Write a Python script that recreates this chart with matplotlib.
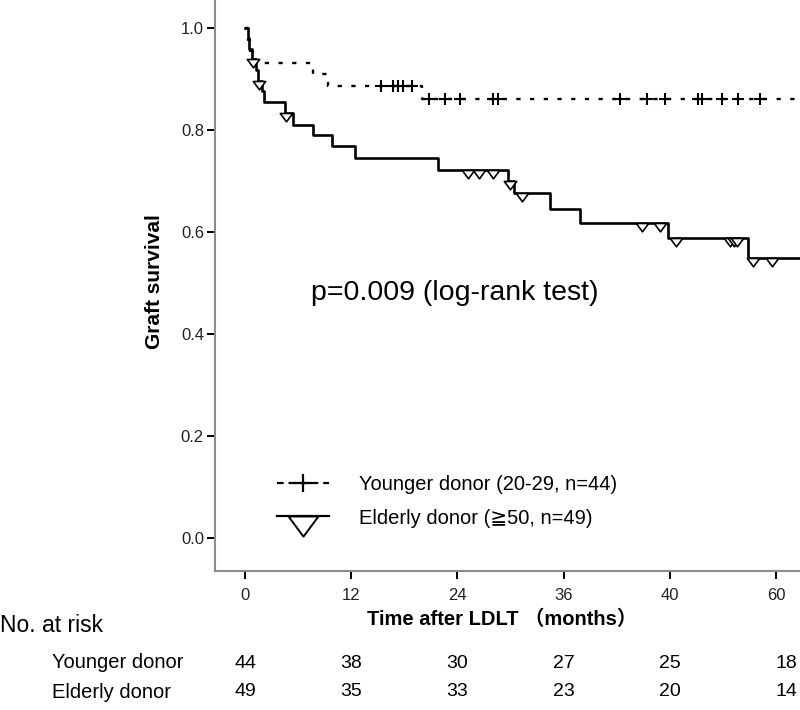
import matplotlib.pyplot as plt
import matplotlib.transforms as mtransforms
from matplotlib.lines import Line2D
from matplotlib.path import Path

# Kaplan-Meier steps (months, survival)
young_t = [0, 0.3, 0.6, 1.0, 7.7, 9.4, 20.0, 62.3]
young_s = [1.0, 0.977, 0.955, 0.932, 0.909, 0.886, 0.860, 0.860]
young_cens_t = [15.4, 16.7, 17.3, 17.9, 18.9, 20.8, 22.6, 24.3, 28.0, 28.6,
                42.4, 45.4, 47.5, 51.2, 51.6, 53.9, 55.7, 58.2]
young_cens_s = [0.886, 0.886, 0.886, 0.886, 0.886, 0.860, 0.860, 0.860, 0.860, 0.860,
                0.860, 0.860, 0.860, 0.860, 0.860, 0.860, 0.860, 0.860]

elder_t = [0, 0.3, 0.5, 0.8, 1.2, 1.5, 1.9, 2.2, 4.5, 5.4, 7.7, 9.8, 12.4, 21.8,
           29.7, 30.4, 34.5, 37.8, 47.8, 56.8, 62.6]
elder_s = [1.0, 0.980, 0.959, 0.939, 0.918, 0.897, 0.876, 0.855, 0.833, 0.810, 0.790,
           0.768, 0.745, 0.722, 0.700, 0.676, 0.645, 0.617, 0.588, 0.549, 0.549]
elder_cens_t = [0.9, 1.6, 4.6, 25.2, 26.4, 28.0, 29.9, 31.3, 44.9, 46.9, 48.7,
                54.8, 55.2, 55.6, 57.4, 59.5]
elder_cens_s = [0.939, 0.897, 0.833, 0.722, 0.722, 0.722, 0.700, 0.676, 0.617, 0.617,
                0.588, 0.588, 0.588, 0.588, 0.549, 0.549]

xticks = [0, 12, 24, 36, 48, 60]
xtick_labels = ['0', '12', '24', '36', '40', '60']
yticks = [0.0, 0.2, 0.4, 0.6, 0.8, 1.0]

risk_times = [0, 12, 24, 36, 48, 60]
young_risk = [44, 38, 30, 27, 25, 18]
elder_risk = [49, 35, 33, 23, 20, 14]

labels = ['Younger donor (20-29, n=44)', 'Elderly donor (\u2267' + '50, n=49)']

fam = ['Liberation Sans', 'DejaVu Sans', 'Noto Sans CJK JP']
plt.rcParams['font.family'] = fam

W, H = 800, 710
fig = plt.figure(figsize=(W / 100, H / 100), dpi=100)
ax = fig.add_axes([215 / W, 1 - 571 / H, 1 - 215 / W, 571 / H])

# censor triangle hanging below the line
tri = Path([(-1, 0), (1, 0), (0, -1.35), (-1, 0)],
           [Path.MOVETO, Path.LINETO, Path.LINETO, Path.CLOSEPOLY])

dotted = (0, (1.8, 4.0))
ax.step(young_t, young_s, where='post', color='black', lw=1.7, linestyle=dotted)
ax.plot(young_cens_t, young_cens_s, linestyle='none', marker='+', ms=8.5,
        mew=1.5, color='black', zorder=3)

ax.step(elder_t, elder_s, where='post', color='black', lw=1.9)
ax.plot(elder_cens_t, elder_cens_s, linestyle='none', marker=tri, ms=12,
        mfc='white', mec='black', mew=1.2, zorder=3)

ax.set_xlim(-3.39, 62.7)
ax.set_ylim(-0.065, 1.055)
ax.set_xticks(xticks)
ax.set_xticklabels(xtick_labels)
ax.set_yticks(yticks)
ax.set_yticklabels(['%.1f' % v for v in yticks])

for s in ['top', 'right']:
    ax.spines[s].set_visible(False)
for s in ['left', 'bottom']:
    ax.spines[s].set_color('#8c8c8c')
    ax.spines[s].set_linewidth(1.5)
ax.tick_params(axis='x', direction='out', length=6, width=1.4, pad=6,
               labelsize=12, colors='black', labelcolor='#222222')
ax.tick_params(axis='y', direction='out', length=6, width=1.4, pad=2,
               labelsize=12, colors='black', labelcolor='#222222')

fig.text(155 / W, 1 - 282 / H, 'Graft survival', rotation=90, fontsize=15,
         fontweight='bold', ha='center', va='center')
fig.text(502 / W, 1 - 619 / H, 'Time after LDLT \uff08months\uff09', fontsize=14.5,
         fontweight='bold', ha='center', va='center')

fig.text(311 / W, 1 - 293 / H, 'p=0.009 (log-rank test)', fontsize=20.5,
         ha='left', va='center')

# legend
h1 = Line2D([], [], color='black', lw=1.6, linestyle=(0, (3, 2.2)), marker='+',
            ms=13, mew=1.6)
h2 = Line2D([], [], color='black', lw=1.6, marker=tri, ms=29, mfc='white',
            mec='black', mew=1.4)
ax.legend([h1, h2], labels, loc='upper left', bbox_to_anchor=(277 / W, 1 - 475 / H),
          bbox_transform=fig.transFigure, frameon=False, fontsize=14.5,
          handlelength=2.6, handletextpad=1.45, labelspacing=0.72,
          borderpad=0, borderaxespad=0, numpoints=1)

# number at risk table
fig.text(0, 1 - 625 / H, 'No. at risk', fontsize=16.5, ha='left', va='center')
fig.text(52 / W, 1 - 663 / H, 'Younger donor', fontsize=14.5, ha='left', va='center')
fig.text(52 / W, 1 - 692 / H, 'Elderly donor', fontsize=14.5, ha='left', va='center')
trans = mtransforms.blended_transform_factory(ax.transData, fig.transFigure)
for t, a, b in zip(risk_times, young_risk, elder_risk):
    x = t + (1.2 if t == 60 else 0)
    fig.text(x, 1 - 663 / H, str(a), fontsize=14, ha='center', va='center',
             transform=trans)
    fig.text(x, 1 - 692 / H, str(b), fontsize=14, ha='center', va='center',
             transform=trans)

fig.savefig('out.png', dpi=100)
